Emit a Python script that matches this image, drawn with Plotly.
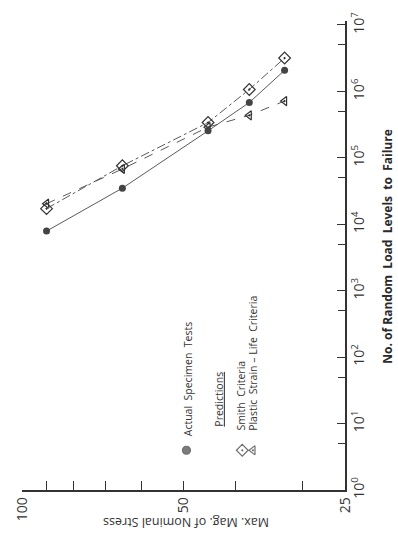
import plotly.graph_objects as go

# Stress levels (max. magnitude of nominal stress) and cycles-to-failure results
stress = [90, 65, 45, 37.7, 32.4]
actual_tests = [7.9e3, 3.5e4, 2.55e5, 6.8e5, 2.08e6]
smith_criteria = [1.72e4, 7.6e4, 3.4e5, 1.07e6, 3.18e6]
plastic_strain_life = [2.04e4, 6.8e4, 2.9e5, 4.37e5, 7.16e5]

# Axis ticks
stress_ticks = [100, 50, 25]
stress_minor = [90, 80, 70, 60, 40, 30]
life_exponents = [0, 1, 2, 3, 4, 5, 6, 7]
life_minor = [5 * 10 ** k for k in range(7)]

# Legend entries
legend_labels = ["Actual  Specimen  Tests", "Smith  Criteria", "Plastic  Strain \u2013 Life  Criteria"]
legend_heading = "Predictions"

W, H = 398, 535
ML, MR, MT, MB = 15, 53, 18, 45
PW, PH = W - ML - MR, H - MT - MB

ink = "#333333"
line_ink = "#5a5a5a"
font_family = "Open Sans, Liberation Sans, sans-serif"
STRESS_RANGE = [2, 1.39794]
LIFE_RANGE = [0, 7.06]


def px(x):
    return (x - ML) / PW


def py(y):
    return (H - MB - y) / PH


fig = go.Figure()

fig.add_trace(go.Scatter(
    x=stress, y=plastic_strain_life, mode="lines+markers",
    line=dict(color=line_ink, width=1, dash="dash"),
    marker=dict(symbol="triangle-left-open-dot", size=8, color=ink, line=dict(width=1.2, color=ink)),
    showlegend=False,
))
fig.add_trace(go.Scatter(
    x=stress, y=smith_criteria, mode="lines+markers",
    line=dict(color=line_ink, width=1, dash="dashdot"),
    marker=dict(symbol="diamond-open-dot", size=9, color=ink, line=dict(width=1.2, color=ink)),
    showlegend=False,
))
fig.add_trace(go.Scatter(
    x=stress, y=actual_tests, mode="lines+markers",
    line=dict(color=line_ink, width=1),
    marker=dict(symbol="circle", size=7, color="#444444"),
    showlegend=False,
))

# Legend symbols on an overlay axis spanning the plot area
fig.add_trace(go.Scatter(
    x=[px(183), px(240), px(251)], y=[py(450)] * 3, mode="markers",
    marker=dict(symbol=["circle", "diamond-open-dot", "triangle-left-open-dot"],
                size=[8, 9, 8], color=["#444444", ink, ink],
                line=dict(width=1.2, color=ink)),
    xaxis="x2", yaxis="y2", showlegend=False, hoverinfo="skip",
))

# Unlabelled intermediate ticks drawn by overlay axes sharing the main scales
fig.add_trace(go.Scatter(x=[], y=[], xaxis="x3", yaxis="y3", showlegend=False, hoverinfo="skip"))

legend_x = [184, 239, 251]
legend_bottom = [438, 432, 432]
annotations = []
for lab, lx, lb in zip(legend_labels, legend_x, legend_bottom):
    annotations.append(dict(
        text=lab, x=px(lx), y=py(lb), xref="paper", yref="paper",
        xanchor="center", yanchor="bottom", textangle=-90, showarrow=False,
        font=dict(family=font_family, size=10.5, color=ink),
    ))
annotations.append(dict(
    text="<u>" + legend_heading + "</u>", x=px(216), y=py(428), xref="paper", yref="paper",
    xanchor="center", yanchor="bottom", textangle=-90, showarrow=False,
    font=dict(family=font_family, size=10.5, color=ink),
))
annotations.append(dict(
    text="<b>No. of Random  Load  Levels  to  Failure</b>", x=px(388), y=py(245),
    xref="paper", yref="paper", xanchor="center", yanchor="middle", textangle=-90,
    showarrow=False, font=dict(family=font_family, size=12, color="#2a2a2a"),
))
annotations.append(dict(
    text="Max. Mag. of Nominal Stress", x=px(182), y=py(522),
    xref="paper", yref="paper", xanchor="center", yanchor="middle", textangle=180,
    showarrow=False, font=dict(family=font_family, size=12.5, color=ink),
))

fig.update_layout(
    width=W, height=H,
    margin=dict(l=ML, r=MR, t=MT, b=MB, pad=0),
    paper_bgcolor="white", plot_bgcolor="white",
    showlegend=False,
    annotations=annotations,
    xaxis=dict(
        type="log", range=STRESS_RANGE, tickvals=stress_ticks,
        ticktext=[str(v) for v in stress_ticks],
        tickangle=-90, ticks="inside", ticklen=9, tickwidth=1.3, tickcolor=ink,
        showline=True, linecolor=ink, linewidth=1.5, showgrid=False, zeroline=False,
        tickfont=dict(family=font_family, size=14, color=ink),
    ),
    yaxis=dict(
        type="log", range=LIFE_RANGE, side="right",
        tickvals=[10 ** k for k in life_exponents],
        ticktext=["10<sup>%d</sup>" % k for k in life_exponents],
        tickangle=-90, ticks="inside", ticklen=8, tickwidth=1.3, tickcolor=ink,
        showline=True, linecolor=ink, linewidth=1.5, showgrid=False, zeroline=False,
        tickfont=dict(family=font_family, size=14, color=ink),
    ),
    xaxis2=dict(range=[0, 1], overlaying="x", visible=False, showticklabels=False,
                showgrid=False, zeroline=False),
    yaxis2=dict(range=[0, 1], overlaying="y", visible=False, showticklabels=False,
                showgrid=False, zeroline=False),
    xaxis3=dict(type="log", range=STRESS_RANGE, overlaying="x", side="bottom",
                tickvals=stress_minor, showticklabels=False, ticks="inside", ticklen=9,
                tickwidth=1.3, tickcolor=ink, showline=False, showgrid=False, zeroline=False),
    yaxis3=dict(type="log", range=LIFE_RANGE, overlaying="y", side="right",
                tickvals=life_minor, showticklabels=False, ticks="inside", ticklen=7,
                tickwidth=1.2, tickcolor=ink, showline=False, showgrid=False, zeroline=False),
)

fig.write_html("out.html")
